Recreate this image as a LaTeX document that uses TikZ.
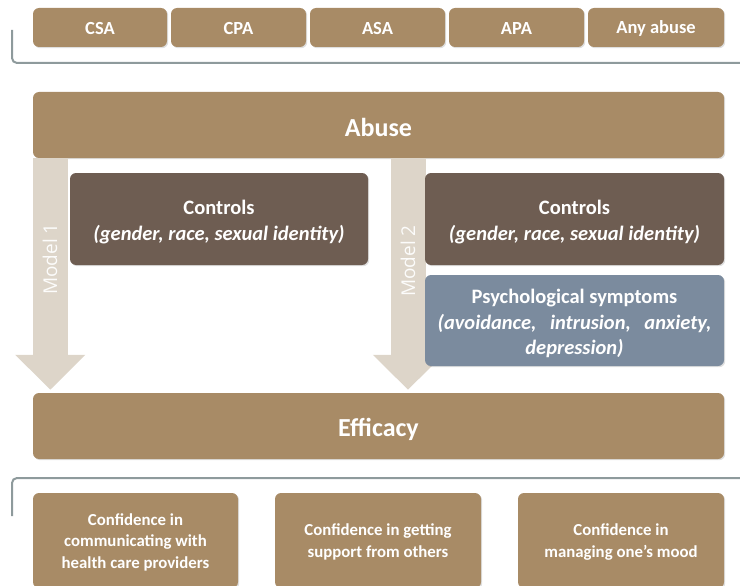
\documentclass[tikz,border=0pt]{standalone}
\usepackage{fontspec}
\setmainfont{Carlito}
\newfontfamily\modelfont{Open Sans}
\usetikzlibrary{arrows.meta,shadows,calc}
\definecolor{tan}{HTML}{A88B66}
\definecolor{darkbrown}{HTML}{6E5D52}
\definecolor{bluegray}{HTML}{7B8B9E}
\definecolor{arrowbeige}{HTML}{DDD5C9}
\definecolor{bracketgray}{HTML}{8E9A9C}
\tikzset{
  box/.style={rounded corners=6pt, draw=none,
    drop shadow={shadow xshift=1.2pt, shadow yshift=-1.2pt, opacity=0.25}},
  tanbox/.style={box, fill=tan},
  ctrlbox/.style={box, fill=darkbrown},
  psybox/.style={box, fill=bluegray},
  txt/.style={text=white, align=center, inner sep=0pt},
  bigarrow/.style={draw=arrowbeige, line width=35pt, -{Triangle[width=68pt,length=35pt]}},
  modellabel/.style={text=white!92!arrowbeige, rotate=90, font=\modelfont\fontsize{19}{22}\selectfont},
  bracket/.style={draw=bracketgray, line width=2pt, rounded corners=5pt},
  toplabel/.style={txt, font=\bfseries\fontsize{18.5}{22}\selectfont},
  midlabel/.style={txt, font=\bfseries\fontsize{20.5}{25.5}\selectfont},
  biglabel/.style={txt, font=\bfseries\fontsize{26}{30}\selectfont},
  botlabel/.style={txt, font=\bfseries\fontsize{16.8}{21.5}\selectfont},
}
\begin{document}
\begin{tikzpicture}[x=1pt,y=-1pt]
\useasboundingbox (0,0) rectangle (740,586);
% top bracket
\coordinate (tb1) at (12,30);
\coordinate (tb2) at (12,63);
\coordinate (tb3) at (740,63);
\draw[bracket] (tb1) -- (tb2) -- (tb3);
% top boxes
\node[tanbox, minimum width=134pt, minimum height=39pt] (csa) at (100,27.5) {};
\node[tanbox, minimum width=135pt, minimum height=39pt] (cpa) at (238.5,27.5) {};
\node[tanbox, minimum width=135pt, minimum height=39pt] (asa) at (377.5,27.5) {};
\node[tanbox, minimum width=135pt, minimum height=39pt] (apa) at (516.5,27.5) {};
\node[tanbox, minimum width=136pt, minimum height=39pt] (any) at (656,27.5) {};
\node[toplabel] (csat) at ($(csa)+(0,1)$) {CSA};
\node[toplabel] (cpat) at ($(cpa)+(0,1)$) {CPA};
\node[toplabel] (asat) at ($(asa)+(0,1)$) {ASA};
\node[toplabel] (apat) at ($(apa)+(0,1)$) {APA};
\node[toplabel] (anyt) at ($(any)+(0,1)$) {Any abuse};
% main boxes
\node[tanbox, minimum width=691pt, minimum height=66pt] (abuse) at (378.5,125) {};
\node[tanbox, minimum width=691pt, minimum height=66pt] (efficacy) at (378.5,426) {};
\node[biglabel] (abuset) at ($(abuse)+(0,2)$) {Abuse};
\node[biglabel] (efficacyt) at ($(efficacy)+(0,3)$) {Efficacy};
% arrows
\coordinate (m1a) at ($(abuse.south west)+(17.5,0)$);
\coordinate (m1b) at ($(efficacy.north west)+(17.5,-3)$);
\coordinate (m2a) at ($(abuse.south)+(29.5,0)$);
\coordinate (m2b) at ($(efficacy.north)+(29.5,-3)$);
\draw[bigarrow] (m1a) -- (m1b);
\draw[bigarrow] (m2a) -- (m2b);
\node[modellabel] (model1) at (50,259) {Model 1};
\node[modellabel] (model2) at (408,261) {Model 2};
% controls
\node[ctrlbox, minimum width=298pt, minimum height=92pt] (ctrl1) at (219,219) {};
\node[ctrlbox, minimum width=299pt, minimum height=92pt] (ctrl2) at (574.5,219) {};
\node[psybox, minimum width=299pt, minimum height=91pt] (psy) at (574.5,320.5) {};
\node[midlabel] (ctrl1t) at ($(ctrl1)+(0,3)$) {Controls\\\textit{(gender, race, sexual identity)}};
\node[midlabel] (ctrl2t) at ($(ctrl2)+(0,3)$) {Controls\\\textit{(gender, race, sexual identity)}};
\node[midlabel] (psyt) at ($(psy)+(0,3)$)
  {Psychological symptoms\\\textit{(avoidance,\hspace{9pt} intrusion,\hspace{9pt} anxiety,}\\\textit{depression)}};
% bottom bracket
\coordinate (bb1) at (12,516);
\coordinate (bb2) at (12,478);
\coordinate (bb3) at (740,478);
\draw[bracket] (bb1) -- (bb2) -- (bb3);
% bottom boxes
\node[tanbox, minimum width=205pt, minimum height=95pt] (conf1) at (135.5,540.5) {};
\node[tanbox, minimum width=206pt, minimum height=95pt] (conf2) at (378,540.5) {};
\node[tanbox, minimum width=206pt, minimum height=95pt] (conf3) at (621,540.5) {};
\node[botlabel] (conf1t) at ($(conf1)+(0,1.5)$) {Confidence in\\communicating with\\health care providers};
\node[botlabel] (conf2t) at ($(conf2)+(0,1.5)$) {Confidence in getting\\support from others};
\node[botlabel] (conf3t) at ($(conf3)+(0,1.5)$) {Confidence in\\managing one’s mood};
\end{tikzpicture}
\end{document}
